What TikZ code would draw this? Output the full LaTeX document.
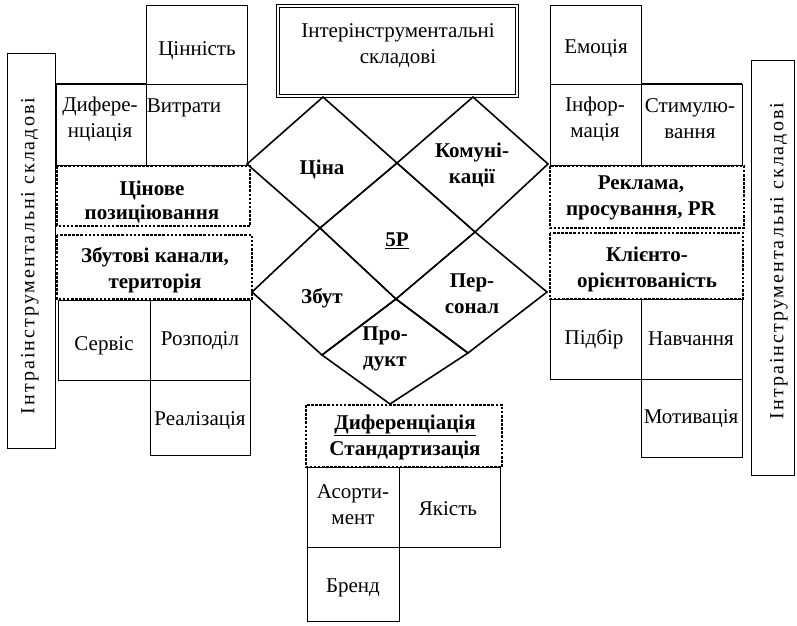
\documentclass[tikz,border=0pt]{standalone}
\usepackage{fontspec}
\setmainfont{Liberation Serif}
\newfontfamily\vfont[LetterSpace=10]{Liberation Serif}
\newcommand{\fs}{\fontsize{21}{26}\selectfont}
\begin{document}
\begin{tikzpicture}[x=1pt,y=-1pt,
  box/.style={draw, line width=0.9pt},
  dbox/.style={draw, line width=1.6pt, dash pattern=on 2.6pt off 1.5pt},
  dia/.style={draw, line width=1.6pt, line join=miter},
  tx/.style={font=\fs, align=center, inner sep=0pt},
  bx/.style={font=\fs\bfseries, align=center, inner sep=0pt},
  vt/.style={font=\vfont\fontsize{20}{22}\selectfont, rotate=90, inner sep=0pt}]
\useasboundingbox (0,0) rectangle (797,625);
\fill[white] (0,0) rectangle (797,625);

% side boxes
\draw[box] (7,53) rectangle (55,448);
\node[vt] (lv) at (30,256) {Інтраінструментальні  складові};
\draw[box] (751,60) rectangle (794,475);
\node[vt] (rv) at (779,261) {Інтраінструментальні  складові};

% top double box
\draw[draw, line width=0.8pt, double, double distance=2.2pt] (278,6) rectangle (517,96);
\node[tx] (top) at (398,46) {Інтерінструментальні\\складові};

% left grid
\draw[box] (146,5) rectangle (247,84);
\draw[box] (56,84) rectangle (146,165);
\draw[box] (146,84) rectangle (247,165);
\draw[line width=2pt] (56,84) -- (146,84);
\node[tx] (cin) at (197,51) {Цінність};
\node[tx] (dyf) at (100,119) {Дифере-\\нціація};
\node[tx] (vyt) at (184,108) {Витрати};
\draw[dbox] (57,166) rectangle (250,226);
\node[bx, align=center] (cpoz) at (152,202) {Цінове\\[-2pt]позиціювання};
\draw[dbox] (57,235) rectangle (252,299);
\node[bx] (zbk) at (155,270) {Збутові канали,\\територія};
\draw[box] (58,300) rectangle (150,380);
\draw[box] (150,300) rectangle (250,380);
\draw[box] (150,380) rectangle (250,455);
\node[tx] (serv) at (104,346) {Сервіс};
\node[tx] (rozp) at (200,341) {Розподіл};
\node[tx] (real) at (200,421) {Реалізація};

% right grid
\draw[box] (550,5) rectangle (641,84);
\draw[box] (550,84) rectangle (641,165);
\draw[box] (641,84) rectangle (742,165);
\draw[line width=2pt] (641,84) -- (742,84);
\node[tx] (emo) at (596,49) {Емоція};
\node[tx] (inf) at (595,119) {Інфор-\\мація};
\node[tx] (stym) at (690,119) {Стимулю-\\вання};
\draw[dbox] (550,166) rectangle (744,228);
\node[bx] (rekl) at (641,198) {Реклама,\\просування, PR};
\draw[dbox] (550,233) rectangle (743,299);
\node[bx] (klij) at (647,269) {Клієнто-\\орієнтованість};
\draw[box] (550,299) rectangle (641,379);
\draw[box] (641,299) rectangle (742,379);
\draw[box] (641,379) rectangle (742,457);
\node[tx] (pidb) at (594,339) {Підбір};
\node[tx] (navch) at (691,339) {Навчання};
\node[tx] (motyv) at (691,419) {Мотивація};

% bottom grid
\draw[dbox] (306,405) rectangle (502,467);
\node[bx] (dyfst) at (405,437) {\underline{Диференціація}\\Стандартизація};
\draw[box] (307,467) rectangle (399,547);
\draw[box] (399,467) rectangle (500,547);
\draw[box] (307,547) rectangle (399,621);
\node[tx] (asort) at (353,505) {Асорти-\\мент};
\node[tx] (yak) at (448,509) {Якість};
\node[tx] (brend) at (353,588) {Бренд};

% diamonds
\draw[dia] (323,97) -- (247,164) -- (320,228) -- (397,163) -- cycle;
\draw[dia] (473,97) -- (397,163) -- (475,232) -- (548,164) -- cycle;
\draw[dia, line width=1.3pt] (397,163) -- (320,228) -- (396,299) -- (475,232) -- cycle;
\draw[dia] (320,228) -- (252,292) -- (322,355) -- (396,299) -- cycle;
\draw[dia] (475,232) -- (396,299) -- (468,353) -- (547,292) -- cycle;
\draw[dia] (396,299) -- (322,355) -- (390,404) -- (468,353) -- cycle;

\node[bx] (cina) at (322,169) {Ціна};
\node[bx] (komu) at (472,165) {Комуні-\\кації};
\node[bx] (fivep) at (397,241) {\underline{5P}};
\node[bx] (zbut) at (322,298) {Збут};
\node[bx] (pers) at (472,294) {Пер-\\сонал};
\node[bx] (prod) at (385,349) {Про-\\дукт};
\end{tikzpicture}
\end{document}
